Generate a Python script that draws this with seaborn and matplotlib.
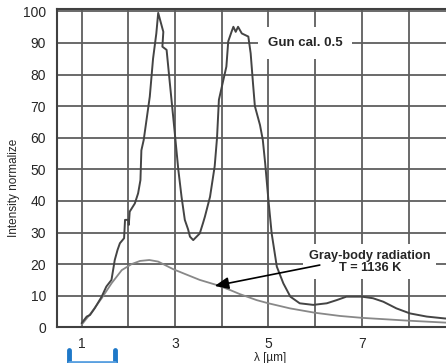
import numpy as np
import pandas as pd
import matplotlib.pyplot as plt
from matplotlib.lines import Line2D
import seaborn as sns

# olculen tabanca spektrumu ve gri cisim egrisi
gun_x = [1.00, 1.11, 1.18, 1.28, 1.43, 1.53, 1.64, 1.71, 1.77, 1.82, 1.91, 1.93,
         2.00, 2.01, 2.03, 2.14, 2.21, 2.26, 2.28, 2.33, 2.46, 2.53, 2.60, 2.64,
         2.75, 2.73, 2.82, 2.89, 3.00, 3.07, 3.14, 3.21, 3.28, 3.32, 3.39, 3.53,
         3.60, 3.64, 3.75, 3.85, 3.90, 3.94, 4.10, 4.14, 4.21, 4.25, 4.30, 4.35,
         4.43, 4.57, 4.62, 4.67, 4.71, 4.82, 4.88, 4.93, 5.00, 5.07, 5.18, 5.32,
         5.47, 5.67, 5.96, 6.25, 6.46, 6.67, 7.00, 7.24, 7.46, 7.74, 8.03, 8.39,
         8.78, 9.20]
gun_y = [1.3, 3.4, 3.9, 6.0, 9.7, 12.9, 15.0, 21.3, 24.5, 26.6, 28.2, 34.0,
         34.0, 32.4, 36.6, 39.2, 42.4, 46.6, 56.0, 59.3, 73.0, 85.0, 93.0, 99.5,
         93.5, 88.8, 87.8, 77.2, 60.8, 50.0, 41.3, 34.0, 31.0, 28.7, 27.6, 29.7,
         33.0, 35.0, 41.3, 51.0, 60.0, 72.0, 82.5, 90.5, 93.5, 95.1, 93.5, 95.1,
         93.0, 92.0, 86.7, 77.2, 70.0, 64.0, 59.3, 52.0, 40.3, 29.7, 19.2, 13.9,
         9.7, 7.6, 7.1, 7.6, 8.6, 9.7, 9.7, 9.2, 8.1, 6.0, 4.4, 3.4,
         2.8, 2.3]

gray_x = [1.00, 1.20, 1.43, 1.64, 1.86, 2.07, 2.25, 2.45, 2.64, 2.96, 3.21, 3.53,
          3.89, 4.18, 4.39, 4.75, 5.00, 5.46, 6.00, 6.53, 7.00, 8.00, 8.78, 9.20]
gray_y = [0.8, 4.5, 9.2, 13.9, 18.1, 20.0, 21.0, 21.3, 20.8, 18.4, 16.9, 15.0,
          13.4, 11.8, 10.5, 8.6, 7.6, 6.0, 4.6, 3.6, 3.0, 2.1, 1.5, 1.3]

x_major = [1, 3, 5, 7]
x_minor = [2, 4, 6, 8, 9]
y_ticks = list(range(0, 101, 10))

gun = pd.DataFrame({"lam": gun_x, "I": gun_y})
gray = pd.DataFrame({"lam": gray_x, "I": gray_y})

sns.set_style("ticks")
plt.rcParams["font.family"] = ["Liberation Sans", "DejaVu Sans"]

koyu = "#262626"
izgara = "#5e5e5e"

fig = plt.figure(figsize=(4.46, 3.63), dpi=100)
ax = fig.add_axes([0.1285, 0.0983, 0.955, 0.8758])

sns.lineplot(data=gray, x="lam", y="I", sort=False, estimator=None,
             color="#888888", lw=1.3, ax=ax, zorder=3)
sns.lineplot(data=gun, x="lam", y="I", sort=False, estimator=None,
             color="#444444", lw=1.4, ax=ax, zorder=4)

ax.set_xlim(0.48, 9.6)
ax.set_ylim(0, 100.6)
ax.set_xticks(x_major)
ax.set_xticks(x_minor, minor=True)
ax.set_yticks(y_ticks)
ax.grid(True, which="both", color=izgara, lw=1.3)
ax.set_axisbelow(True)
ax.tick_params(which="both", length=0, labelsize=10, labelcolor=koyu)
ax.tick_params(axis="y", pad=8)
ax.tick_params(axis="x", pad=7)
for s in ["left", "bottom", "top"]:
    ax.spines[s].set_color("#404040")
    ax.spines[s].set_linewidth(1.5)
ax.spines["right"].set_visible(False)

ax.set_xlabel("λ [µm]", fontsize=8.5, color=koyu, labelpad=1)
ax.set_ylabel("Intensity normalize", fontsize=8.5, color=koyu, labelpad=4)
ax.yaxis.set_label_coords(-0.088, 0.44)

ax.text(5.78, 90, "Gun cal. 0.5", fontsize=9.5, fontweight="bold", color=koyu,
        ha="center", va="center", zorder=5,
        bbox=dict(boxstyle="square,pad=0.75", fc="white", ec="none"))

ax.text(7.17, 20.8, "Gray-body radiation\nT = 1136 K", fontsize=9.2,
        fontweight="bold", color=koyu, ha="center", va="center",
        linespacing=1.0, zorder=5,
        bbox=dict(boxstyle="square,pad=0.45", fc="white", ec="none"))
ax.annotate("", xy=(3.85, 13.1), xytext=(6.1, 19.7), zorder=6,
            arrowprops=dict(arrowstyle="-|>,head_length=0.7,head_width=0.3",
                            color="black", lw=1.2, shrinkA=0, shrinkB=0,
                            mutation_scale=12))

# alttaki mavi kose isareti
mavi = "#1e78c8"
fig.add_artist(Line2D([0.155, 0.155], [0.0, 0.036], transform=fig.transFigure,
                      color=mavi, lw=3.5))
fig.add_artist(Line2D([0.257, 0.257], [0.0, 0.036], transform=fig.transFigure,
                      color=mavi, lw=3.5))
fig.add_artist(Line2D([0.155, 0.257], [0.002, 0.002], transform=fig.transFigure,
                      color="#5aa0e0", lw=2))

fig.savefig("out.png", dpi=100)
